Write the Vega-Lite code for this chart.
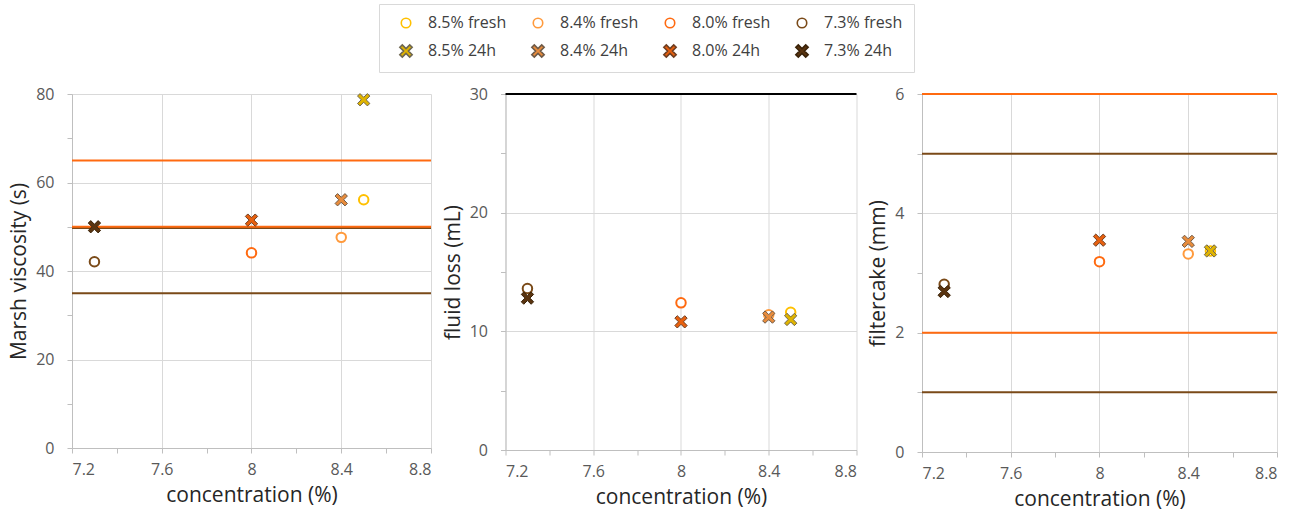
{
  "$schema": "https://vega.github.io/schema/vega-lite/v6.json",
  "padding": {"left": 8, "top": 3, "right": 5, "bottom": 0},
  "datasets": {
    "pts": [
      {"measure": "marsh", "conc": 7.3, "state": "fresh", "series": "7.3% fresh", "value": 42.1},
      {"measure": "marsh", "conc": 8.0, "state": "fresh", "series": "8.0% fresh", "value": 44.1},
      {"measure": "marsh", "conc": 8.4, "state": "fresh", "series": "8.4% fresh", "value": 47.6},
      {"measure": "marsh", "conc": 8.5, "state": "fresh", "series": "8.5% fresh", "value": 56.1},
      {"measure": "marsh", "conc": 7.3, "state": "24h", "series": "7.3% 24h", "value": 50.0},
      {"measure": "marsh", "conc": 8.0, "state": "24h", "series": "8.0% 24h", "value": 51.5},
      {"measure": "marsh", "conc": 8.4, "state": "24h", "series": "8.4% 24h", "value": 56.1},
      {"measure": "marsh", "conc": 8.5, "state": "24h", "series": "8.5% 24h", "value": 78.7},
      {"measure": "fluid", "conc": 7.3, "state": "fresh", "series": "7.3% fresh", "value": 13.6},
      {"measure": "fluid", "conc": 8.0, "state": "fresh", "series": "8.0% fresh", "value": 12.4},
      {"measure": "fluid", "conc": 8.4, "state": "fresh", "series": "8.4% fresh", "value": 11.4},
      {"measure": "fluid", "conc": 8.5, "state": "fresh", "series": "8.5% fresh", "value": 11.6},
      {"measure": "fluid", "conc": 7.3, "state": "24h", "series": "7.3% 24h", "value": 12.8},
      {"measure": "fluid", "conc": 8.0, "state": "24h", "series": "8.0% 24h", "value": 10.8},
      {"measure": "fluid", "conc": 8.4, "state": "24h", "series": "8.4% 24h", "value": 11.2},
      {"measure": "fluid", "conc": 8.5, "state": "24h", "series": "8.5% 24h", "value": 11.0},
      {"measure": "cake", "conc": 7.3, "state": "fresh", "series": "7.3% fresh", "value": 2.81},
      {"measure": "cake", "conc": 8.0, "state": "fresh", "series": "8.0% fresh", "value": 3.19},
      {"measure": "cake", "conc": 8.4, "state": "fresh", "series": "8.4% fresh", "value": 3.32},
      {"measure": "cake", "conc": 8.5, "state": "fresh", "series": "8.5% fresh", "value": 3.37},
      {"measure": "cake", "conc": 7.3, "state": "24h", "series": "7.3% 24h", "value": 2.69},
      {"measure": "cake", "conc": 8.0, "state": "24h", "series": "8.0% 24h", "value": 3.55},
      {"measure": "cake", "conc": 8.4, "state": "24h", "series": "8.4% 24h", "value": 3.53},
      {"measure": "cake", "conc": 8.5, "state": "24h", "series": "8.5% 24h", "value": 3.37}
    ],
    "lims": [
      {"measure": "marsh", "spec": "spec B", "value": 35},
      {"measure": "marsh", "spec": "spec B", "value": 49.7},
      {"measure": "marsh", "spec": "spec A", "value": 50},
      {"measure": "marsh", "spec": "spec A", "value": 65},
      {"measure": "fluid", "spec": "spec C", "value": 30},
      {"measure": "cake", "spec": "spec B", "value": 1},
      {"measure": "cake", "spec": "spec B", "value": 5},
      {"measure": "cake", "spec": "spec A", "value": 2},
      {"measure": "cake", "spec": "spec A", "value": 6}
    ]
  },
  "spacing": 9.5,
  "hconcat": [
    {
      "width": 359, "height": 354,
      "layer": [
        {
          "data": {"name": "lims"},
          "transform": [{"filter": "datum.measure == 'marsh'"}],
          "mark": {"type": "rule", "strokeWidth": 2},
          "encoding": {
            "y": {"field": "value", "type": "quantitative", "scale": {"domain": [0, 80], "nice": false, "zero": false},
                  "axis": {"title": "Marsh viscosity (s)", "values": [0,10,20,30,40,50,60,70,80], "labelExpr": "datum.value % 20 == 0 ? toString(datum.value) : ''", "gridOpacity": {"condition": {"test": "datum.value % 20 == 0", "value": 1}, "value": 0}}},
            "color": {"field": "spec", "type": "nominal", "scale": {"domain": ["spec A", "spec B", "spec C"], "range": ["#FF6A10", "#7A4A18", "#000000"]}, "legend": null}
          }
        },
        {
          "data": {"name": "pts"},
          "transform": [{"filter": "datum.measure == 'marsh'"}],
          "mark": {"type": "point", "opacity": 1, "size": 90},
          "encoding": {
            "x": {"field": "conc", "type": "quantitative", "scale": {"domain": [7.2, 8.8], "nice": false, "zero": false},
                  "axis": {"title": "concentration (%)", "values": [7.2,7.4,7.6,7.8,8,8.2,8.4,8.6,8.8], "labelExpr": "round(datum.value*5) % 2 == 0 ? toString(datum.value) : ''", "gridOpacity": {"condition": {"test": "round(datum.value*5) % 2 == 0", "value": 1}, "value": 0}}},
            "y": {"field": "value", "type": "quantitative", "scale": {"domain": [0, 80], "nice": false, "zero": false},
                  "axis": {"title": "Marsh viscosity (s)", "values": [0,10,20,30,40,50,60,70,80], "labelExpr": "datum.value % 20 == 0 ? toString(datum.value) : ''", "gridOpacity": {"condition": {"test": "datum.value % 20 == 0", "value": 1}, "value": 0}}},
            "shape": {"field": "series", "type": "nominal", "scale": {"domain": ["8.5% fresh","8.4% fresh","8.0% fresh","7.3% fresh","8.5% 24h","8.4% 24h","8.0% 24h","7.3% 24h"], "range": ["circle","circle","circle","circle","M-1.3,-0.78L-0.78,-1.3L0,-0.52L0.78,-1.3L1.3,-0.78L0.52,0L1.3,0.78L0.78,1.3L0,0.52L-0.78,1.3L-1.3,0.78L-0.52,0Z","M-1.3,-0.78L-0.78,-1.3L0,-0.52L0.78,-1.3L1.3,-0.78L0.52,0L1.3,0.78L0.78,1.3L0,0.52L-0.78,1.3L-1.3,0.78L-0.52,0Z","M-1.3,-0.78L-0.78,-1.3L0,-0.52L0.78,-1.3L1.3,-0.78L0.52,0L1.3,0.78L0.78,1.3L0,0.52L-0.78,1.3L-1.3,0.78L-0.52,0Z","M-1.3,-0.78L-0.78,-1.3L0,-0.52L0.78,-1.3L1.3,-0.78L0.52,0L1.3,0.78L0.78,1.3L0,0.52L-0.78,1.3L-1.3,0.78L-0.52,0Z"]},
                      "legend": {"orient": "none", "legendX": 307, "legendY": -90, "columns": 4, "title": null, "direction": "horizontal"}},
            "fill": {"field": "series", "type": "nominal", "scale": {"domain": ["8.5% fresh","8.4% fresh","8.0% fresh","7.3% fresh","8.5% 24h","8.4% 24h","8.0% 24h","7.3% 24h"], "range": ["#ffffff","#ffffff","#ffffff","#ffffff","#E0B400","#E88C3C","#E8600E","#5A3410"]},
                      "legend": {"orient": "none", "legendX": 307, "legendY": -90, "columns": 4, "title": null, "direction": "horizontal"}},
            "stroke": {"field": "series", "type": "nominal", "scale": {"domain": ["8.5% fresh","8.4% fresh","8.0% fresh","7.3% fresh","8.5% 24h","8.4% 24h","8.0% 24h","7.3% 24h"], "range": ["#FFC000","#FF9A3C","#FF6A10","#7A4A18","#6E6650","#6E5A48","#6E3E22","#3A2208"]},
                      "legend": {"orient": "none", "legendX": 307, "legendY": -90, "columns": 4, "title": null, "direction": "horizontal"}},
            "strokeWidth": {"condition": {"test": "datum.state == 'fresh'", "value": 2}, "value": 1}
          }
        }
      ]
    },
    {
      "width": 351, "height": 356,
      "layer": [
        {
          "data": {"name": "lims"},
          "transform": [{"filter": "datum.measure == 'fluid'"}],
          "mark": {"type": "rule", "strokeWidth": 2},
          "encoding": {
            "y": {"field": "value", "type": "quantitative", "scale": {"domain": [0, 30], "nice": false, "zero": false},
                  "axis": {"title": "fluid loss (mL)", "values": [0,5,10,15,20,25,30], "labelExpr": "datum.value % 10 == 0 ? toString(datum.value) : ''", "gridOpacity": {"condition": {"test": "datum.value % 10 == 0", "value": 1}, "value": 0}}},
            "color": {"field": "spec", "type": "nominal", "scale": {"domain": ["spec A", "spec B", "spec C"], "range": ["#FF6A10", "#7A4A18", "#000000"]}, "legend": null}
          }
        },
        {
          "data": {"name": "pts"},
          "transform": [{"filter": "datum.measure == 'fluid'"}],
          "mark": {"type": "point", "opacity": 1, "size": 90},
          "encoding": {
            "x": {"field": "conc", "type": "quantitative", "scale": {"domain": [7.2, 8.8], "nice": false, "zero": false},
                  "axis": {"title": "concentration (%)", "values": [7.2,7.4,7.6,7.8,8,8.2,8.4,8.6,8.8], "labelExpr": "round(datum.value*5) % 2 == 0 ? toString(datum.value) : ''", "gridOpacity": {"condition": {"test": "round(datum.value*5) % 2 == 0", "value": 1}, "value": 0}}},
            "y": {"field": "value", "type": "quantitative", "scale": {"domain": [0, 30], "nice": false, "zero": false},
                  "axis": {"title": "fluid loss (mL)", "values": [0,5,10,15,20,25,30], "labelExpr": "datum.value % 10 == 0 ? toString(datum.value) : ''", "gridOpacity": {"condition": {"test": "datum.value % 10 == 0", "value": 1}, "value": 0}}},
            "shape": {"field": "series", "type": "nominal"},
            "fill": {"field": "series", "type": "nominal"},
            "stroke": {"field": "series", "type": "nominal"},
            "strokeWidth": {"condition": {"test": "datum.state == 'fresh'", "value": 2}, "value": 1}
          }
        }
      ]
    },
    {
      "width": 355, "height": 358,
      "layer": [
        {
          "data": {"name": "lims"},
          "transform": [{"filter": "datum.measure == 'cake'"}],
          "mark": {"type": "rule", "strokeWidth": 2},
          "encoding": {
            "y": {"field": "value", "type": "quantitative", "scale": {"domain": [0, 6], "nice": false, "zero": false},
                  "axis": {"title": "filtercake (mm)", "values": [0,1,2,3,4,5,6], "labelExpr": "datum.value % 2 == 0 ? toString(datum.value) : ''", "gridOpacity": {"condition": {"test": "datum.value % 2 == 0", "value": 1}, "value": 0}}},
            "color": {"field": "spec", "type": "nominal", "scale": {"domain": ["spec A", "spec B", "spec C"], "range": ["#FF6A10", "#7A4A18", "#000000"]}, "legend": null}
          }
        },
        {
          "data": {"name": "pts"},
          "transform": [{"filter": "datum.measure == 'cake'"}],
          "mark": {"type": "point", "opacity": 1, "size": 90},
          "encoding": {
            "x": {"field": "conc", "type": "quantitative", "scale": {"domain": [7.2, 8.8], "nice": false, "zero": false},
                  "axis": {"title": "concentration (%)", "values": [7.2,7.4,7.6,7.8,8,8.2,8.4,8.6,8.8], "labelExpr": "round(datum.value*5) % 2 == 0 ? toString(datum.value) : ''", "gridOpacity": {"condition": {"test": "round(datum.value*5) % 2 == 0", "value": 1}, "value": 0}}},
            "y": {"field": "value", "type": "quantitative", "scale": {"domain": [0, 6], "nice": false, "zero": false},
                  "axis": {"title": "filtercake (mm)", "values": [0,1,2,3,4,5,6], "labelExpr": "datum.value % 2 == 0 ? toString(datum.value) : ''", "gridOpacity": {"condition": {"test": "datum.value % 2 == 0", "value": 1}, "value": 0}}},
            "shape": {"field": "series", "type": "nominal"},
            "fill": {"field": "series", "type": "nominal"},
            "stroke": {"field": "series", "type": "nominal"},
            "strokeWidth": {"condition": {"test": "datum.state == 'fresh'", "value": 2}, "value": 1}
          }
        }
      ]
    }
  ],
  "config": {
    "view": {"stroke": null},
    "font": "Open Sans",
    "axis": {
      "domainColor": "#bfbfbf", "tickColor": "#bfbfbf", "tickSize": 5, "gridColor": "#d9d9d9",
      "labelFont": "Open Sans", "labelFontSize": 16, "labelColor": "#595959",
      "titleFont": "Open Sans", "titleFontSize": 21, "titleFontWeight": "normal", "titleColor": "#262626"
    },
    "axisY": {"labelPadding": 13, "titlePadding": 6},
    "axisX": {"labelPadding": 8, "titlePadding": 7},
    "legend": {
      "padding": 11, "strokeColor": "#d9d9d9", "fillColor": "#ffffff",
      "labelFont": "Open Sans", "labelFontSize": 16, "labelColor": "#404040",
      "symbolSize": 90, "symbolStrokeWidth": 1.6, "columnPadding": 15, "rowPadding": 10,
      "labelOffset": 14, "symbolOffset": 8
    }
  }
}
